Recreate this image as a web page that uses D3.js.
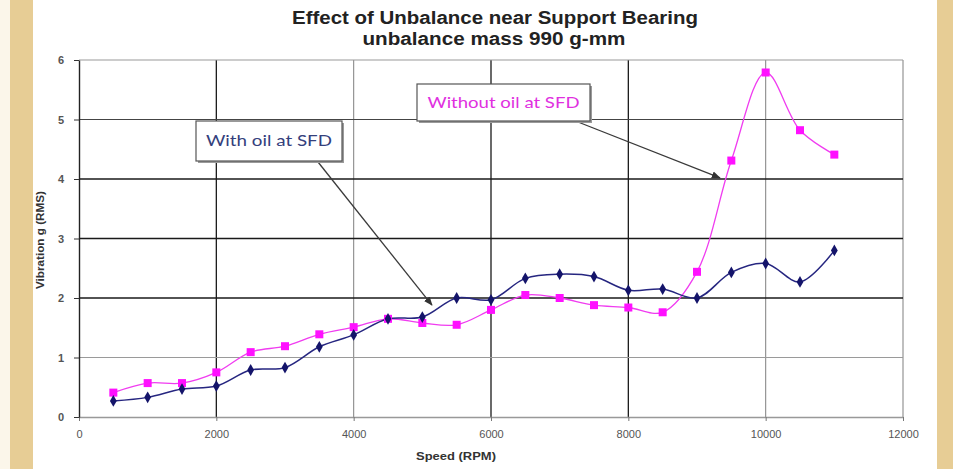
<!DOCTYPE html>
<html>
<head>
<meta charset="utf-8">
<script src="https://cdn.jsdelivr.net/npm/d3@7"></script>
<style>
  body { margin: 0; background: #fff; }
  svg { display: block; font-family: 'Liberation Sans', Arial, sans-serif; }
</style>
</head>
<body>
<div id="chart"></div>
<script>
const speeds = [500, 1000, 1500, 2000, 2500, 3000, 3500, 4000, 4500, 5000, 5500,
  6000, 6500, 7000, 7500, 8000, 8500, 9000, 9500, 10000, 10500, 11000];
const withOil = [0.27, 0.33, 0.47, 0.52, 0.79, 0.83, 1.18, 1.38, 1.65, 1.68, 2.0,
  1.97, 2.33, 2.40, 2.36, 2.13, 2.15, 2.0, 2.43, 2.58, 2.27, 2.80];
const withoutOil = [0.41, 0.57, 0.57, 0.75, 1.09, 1.19, 1.39, 1.51, 1.65, 1.58, 1.55,
  1.80, 2.05, 2.0, 1.88, 1.84, 1.76, 2.44, 4.31, 5.79, 4.82, 4.41];
const xTicks = [0, 2000, 4000, 6000, 8000, 10000, 12000];
const yTicks = [0, 1, 2, 3, 4, 5, 6];
const titleLines = ['Effect of Unbalance near Support Bearing', 'unbalance mass 990 g-mm'];
const seriesNames = ['With oil at SFD', 'Without oil at SFD'];

(function() {
  const W = 953, H = 469;
  const plot = { left: 79, right: 903, top: 60, bottom: 417 };

  const svg = d3.select('#chart').append('svg')
    .attr('width', W)
    .attr('height', H);

  // tan page edges
  svg.append('rect').attr('x', 0).attr('y', 0).attr('width', W).attr('height', H).attr('fill', '#fbf6ea');
  svg.append('rect').attr('x', 10).attr('y', 0).attr('width', 23).attr('height', H).attr('fill', '#e7cd95');
  svg.append('rect').attr('x', 937).attr('y', 0).attr('width', 16).attr('height', H).attr('fill', '#e7cd95');
  svg.append('rect').attr('x', 33).attr('y', 0).attr('width', 904).attr('height', H).attr('fill', '#fff');

  const x = d3.scaleLinear().domain([0, 12000]).range([plot.left, plot.right]);
  const y = d3.scaleLinear().domain([0, 6]).range([plot.bottom, plot.top]);

  // gridlines (blurry screenshot: some look black, some grey)
  const darkX = [2000, 6000, 8000];
  const darkY = [2, 3, 4];
  svg.append('g').selectAll('line')
    .data(xTicks.slice(1))
    .enter().append('line')
      .attr('x1', d => x(d)).attr('x2', d => x(d))
      .attr('y1', plot.top).attr('y2', plot.bottom)
      .attr('stroke', d => darkX.includes(d) ? '#1a1a1a' : '#8a8a8a')
      .attr('stroke-width', d => darkX.includes(d) ? 1.3 : 1.1);
  svg.append('g').selectAll('line')
    .data(yTicks.slice(1))
    .enter().append('line')
      .attr('x1', plot.left).attr('x2', plot.right)
      .attr('y1', d => y(d)).attr('y2', d => y(d))
      .attr('stroke', d => darkY.includes(d) ? '#1a1a1a' : (d === 5 ? '#444' : '#9a9a9a'))
      .attr('stroke-width', d => darkY.includes(d) ? 1.3 : 1.1);

  // axes
  const xAxis = svg.append('g')
    .attr('transform', `translate(0,${plot.bottom})`)
    .call(d3.axisBottom(x).tickValues(xTicks).tickFormat(d3.format('d'))
      .tickSize(4).tickSizeOuter(0).tickPadding(9));
  xAxis.select('.domain').attr('stroke', '#999').attr('stroke-width', 1.5);
  xAxis.selectAll('.tick line').attr('stroke', '#777');
  xAxis.selectAll('text').attr('fill', '#555').attr('font-size', 11);

  const yAxis = svg.append('g')
    .attr('transform', `translate(${plot.left},0)`)
    .call(d3.axisLeft(y).tickValues(yTicks).tickFormat(d3.format('d'))
      .tickSize(5).tickSizeOuter(0).tickPadding(10));
  yAxis.select('.domain').attr('stroke', '#222').attr('stroke-width', 1.4);
  yAxis.selectAll('.tick line').attr('stroke', '#333');
  yAxis.selectAll('text').attr('fill', '#555').attr('font-size', 11).attr('font-weight', 'bold');

  // titles
  svg.append('text')
    .text(titleLines[0])
    .attr('x', 495).attr('y', 24)
    .attr('text-anchor', 'middle')
    .attr('font-size', 18).attr('font-weight', 'bold').attr('fill', '#222')
    .attr('textLength', 406).attr('lengthAdjust', 'spacingAndGlyphs');
  svg.append('text')
    .text(titleLines[1])
    .attr('x', 494).attr('y', 45)
    .attr('text-anchor', 'middle')
    .attr('font-size', 18).attr('font-weight', 'bold').attr('fill', '#222')
    .attr('textLength', 263).attr('lengthAdjust', 'spacingAndGlyphs');

  svg.append('text')
    .text('Speed (RPM)')
    .attr('x', 456).attr('y', 460)
    .attr('text-anchor', 'middle')
    .attr('font-size', 11).attr('font-weight', 'bold').attr('fill', '#333')
    .attr('textLength', 80).attr('lengthAdjust', 'spacingAndGlyphs');
  svg.append('text')
    .text('Vibration g (RMS)')
    .attr('transform', 'translate(44,240) rotate(-90)')
    .attr('text-anchor', 'middle')
    .attr('font-size', 11).attr('font-weight', 'bold').attr('fill', '#333')
    .attr('textLength', 98).attr('lengthAdjust', 'spacingAndGlyphs');

  // series
  const line = d3.line()
    .x(d => x(d[0]))
    .y(d => y(d[1]))
    .curve(d3.curveCatmullRom.alpha(0.5));

  const oilData = speeds.map((s, i) => [s, withOil[i]]);
  const dryData = speeds.map((s, i) => [s, withoutOil[i]]);

  svg.append('path')
    .datum(dryData)
    .attr('d', line)
    .attr('fill', 'none')
    .attr('stroke', '#f03cf0')
    .attr('stroke-width', 1.3);
  svg.append('path')
    .datum(oilData)
    .attr('d', line)
    .attr('fill', 'none')
    .attr('stroke', '#262680')
    .attr('stroke-width', 1.5);

  svg.append('g').selectAll('rect')
    .data(dryData)
    .enter().append('rect')
      .attr('x', d => x(d[0]) - 4)
      .attr('y', d => y(d[1]) - 4)
      .attr('width', 8).attr('height', 8)
      .attr('fill', '#ff10ff');

  svg.append('g').selectAll('path')
    .data(oilData)
    .enter().append('path')
      .attr('d', d3.symbol().type(d3.symbolDiamond).size(40))
      .attr('transform', d => `translate(${x(d[0])},${y(d[1])})`)
      .attr('fill', '#14146a');

  // callouts
  const defs = svg.append('defs');
  defs.append('marker')
    .attr('id', 'arrow')
    .attr('viewBox', '0 0 10 10')
    .attr('refX', 9).attr('refY', 5)
    .attr('markerWidth', 7).attr('markerHeight', 7)
    .attr('orient', 'auto')
    .append('path')
      .attr('d', 'M0,1 L10,5 L0,9 z')
      .attr('fill', '#333');

  function callout(label, box, color, from, toSpeed, toVal) {
    svg.append('line')
      .attr('x1', from[0]).attr('y1', from[1])
      .attr('x2', x(toSpeed)).attr('y2', y(toVal))
      .attr('stroke', '#3a3a3a')
      .attr('stroke-width', 1.3)
      .attr('marker-end', 'url(#arrow)');
    svg.append('rect')
      .attr('x', box.x + 2).attr('y', box.y + 2)
      .attr('width', box.w).attr('height', box.h)
      .attr('fill', '#9a9a9a');
    svg.append('rect')
      .attr('x', box.x).attr('y', box.y)
      .attr('width', box.w).attr('height', box.h)
      .attr('fill', '#fff')
      .attr('stroke', '#555')
      .attr('stroke-width', 1.2);
    svg.append('text')
      .text(label)
      .attr('x', box.x + box.w / 2).attr('y', box.y + box.h / 2 + 5)
      .attr('text-anchor', 'middle')
      .attr('font-family', 'Lato, sans-serif')
      .attr('font-size', 15)
      .attr('fill', color)
      .attr('textLength', box.tl).attr('lengthAdjust', 'spacingAndGlyphs');
  }

  callout(seriesNames[0], { x: 196, y: 121, w: 146, h: 40, tl: 126 }, '#34407c', [318, 162], 5140, 1.88);
  callout(seriesNames[1], { x: 417, y: 84, w: 173, h: 37, tl: 152 }, '#e030e0', [578, 122], 9335, 4.02);
}());
</script>
</body>
</html>
